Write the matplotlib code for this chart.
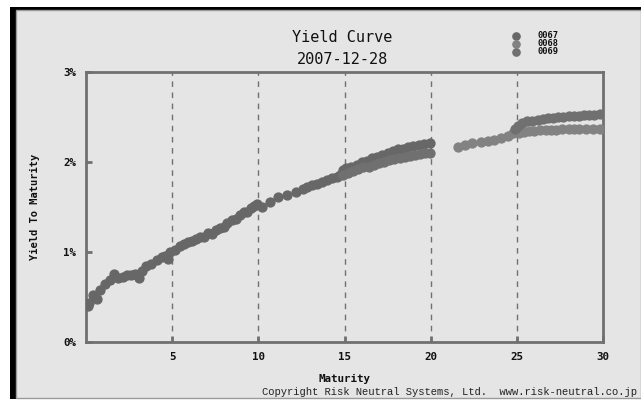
import matplotlib

matplotlib.use("Agg")
import matplotlib.pyplot as plt
from matplotlib.patches import Rectangle

# --- data (maturity in years, yield in %) ---
mat_0067 = [0.10, 0.15, 0.40, 0.62, 0.80, 1.10, 1.40, 1.60, 1.85, 2.15, 2.40, 2.60,
            2.85, 3.10, 3.25, 3.50, 3.80, 4.10, 4.40, 4.60, 4.75, 4.90, 5.15, 5.45,
            5.70, 5.90, 6.15, 6.40, 6.60, 6.85, 7.10, 7.30, 7.55, 7.80, 8.00, 8.20,
            8.45, 8.70, 8.95, 9.15, 9.35, 9.55, 9.75, 9.95, 10.20, 10.65, 11.15, 11.65,
            12.20, 12.60, 12.80, 13.10, 13.40, 13.70, 14.00, 14.30, 14.55, 14.75, 14.90,
            15.10, 15.40, 15.70, 16.00, 16.30, 16.60, 16.90, 17.20, 17.50, 17.80, 18.10,
            18.40, 18.70, 19.00, 19.30, 19.60, 19.95]
ytm_0067 = [0.40, 0.43, 0.52, 0.48, 0.58, 0.65, 0.69, 0.76, 0.71, 0.72, 0.75, 0.74,
            0.76, 0.71, 0.79, 0.84, 0.87, 0.91, 0.94, 0.96, 0.92, 1.00, 1.02, 1.07,
            1.09, 1.11, 1.12, 1.15, 1.17, 1.17, 1.21, 1.20, 1.25, 1.27, 1.28, 1.32,
            1.36, 1.37, 1.41, 1.45, 1.45, 1.49, 1.51, 1.53, 1.50, 1.56, 1.61, 1.63,
            1.67, 1.70, 1.72, 1.74, 1.76, 1.78, 1.80, 1.82, 1.83, 1.86, 1.91,
            1.93, 1.95, 1.97, 2.00, 2.01, 2.04, 2.06, 2.08, 2.10, 2.12, 2.14,
            2.15, 2.17, 2.18, 2.19, 2.20, 2.21]

mat_0068 = [21.6, 22.0, 22.4, 22.9, 23.35, 23.7, 24.1, 24.5, 24.8, 25.1, 25.4, 25.7,
            26.0, 26.35, 26.7, 27.0, 27.3, 27.6, 28.0, 28.3, 28.6, 29.0, 29.4, 29.8]
ytm_0068 = [2.17, 2.19, 2.21, 2.22, 2.23, 2.25, 2.27, 2.29, 2.32, 2.32, 2.33, 2.34,
            2.35, 2.36, 2.36, 2.36, 2.36, 2.37, 2.37, 2.37, 2.37, 2.37, 2.37, 2.37]

mat_0069 = [14.90, 15.20, 15.50, 15.80, 16.10, 16.40, 16.70, 17.00, 17.30, 17.60,
            17.90, 18.20, 18.50, 18.80, 19.10, 19.40, 19.70, 19.95,
            24.9, 25.05, 25.3, 25.6, 25.9, 26.2, 26.5, 26.8, 27.1, 27.4, 27.7, 28.0,
            28.3, 28.6, 28.9, 29.2, 29.5, 29.8]
ytm_0069 = [1.86, 1.88, 1.90, 1.92, 1.94, 1.95, 1.97, 1.99, 2.00, 2.02,
            2.03, 2.05, 2.06, 2.07, 2.08, 2.09, 2.10, 2.10,
            2.37, 2.40, 2.43, 2.45, 2.46, 2.47, 2.48, 2.49, 2.49, 2.50, 2.50, 2.51,
            2.51, 2.51, 2.52, 2.52, 2.52, 2.53]

series = [("0067", mat_0067, ytm_0067, "#676767"),
          ("0068", mat_0068, ytm_0068, "#828282"),
          ("0069", mat_0069, ytm_0069, "#707070")]
x_ticks = [5, 10, 15, 20, 25, 30]
y_ticks = [0, 1, 2, 3]

W, H = 641, 405
PANEL = "#e5e5e5"
FRAME = "#707070"
INK = "#111111"
MONO = "DejaVu Sans Mono"


def fx(px):
    return px / W


def fy(py):
    return 1 - py / H


fig = plt.figure(figsize=(W / 100, H / 100), dpi=100, facecolor="white")

# black drop shadow + grey card, kept behind the axes
fig.patches.append(Rectangle((fx(10), fy(399)), fx(641 - 10), (399 - 7) / H,
                             transform=fig.transFigure, facecolor="black",
                             edgecolor="none", zorder=-2))
fig.patches.append(Rectangle((fx(16), fy(398)), fx(641 - 16), (398 - 10) / H,
                             transform=fig.transFigure, facecolor=PANEL,
                             edgecolor="#9a9a9a", lw=1, zorder=-1))

ax = fig.add_axes([fx(86), fy(342), fx(603 - 86), (342 - 72) / H], zorder=1)
ax.set_facecolor(PANEL)
for name, xs, ys, col in series:
    ax.plot(xs, ys, ls="none", marker="o", ms=6.4, color=col, mec=col,
            zorder=3)

ax.set_xlim(0, 30)
ax.set_ylim(0, 3)
ax.set_xticks(x_ticks)
ax.set_yticks(y_ticks)
ax.set_yticklabels([f"{v}%" for v in y_ticks])
for v in x_ticks[:-1]:
    ax.axvline(v, color=FRAME, lw=1, ls=(0, (4, 4)), zorder=1)
for s in ax.spines.values():
    s.set_color(FRAME)
    s.set_linewidth(2)
ax.tick_params(direction="in", length=4, width=2, color=FRAME, pad=7,
               labelsize=7.8, labelcolor=INK)
for lab in ax.get_xticklabels() + ax.get_yticklabels():
    lab.set_fontfamily(MONO)
    lab.set_fontweight("bold")

ax.set_xlabel("Maturity", fontfamily=MONO, fontweight="bold", fontsize=7.8,
              color=INK, labelpad=9)
ax.set_ylabel("Yield To Maturity", fontfamily=MONO, fontweight="bold",
              fontsize=7.5, color=INK, labelpad=17)

fig.text(fx(342), fy(38), "Yield Curve", ha="center", va="center",
         fontfamily=MONO, fontsize=11, color=INK)
fig.text(fx(342), fy(60), "2007-12-28", ha="center", va="center",
         fontfamily=MONO, fontsize=11, color=INK)

# legend, tightly stacked as in the reference
for i, (name, _, _, col) in enumerate(series):
    yy = fy(36 + i * 8)
    fig.lines.append(plt.Line2D([fx(516)], [yy], transform=fig.transFigure,
                                marker="o", ms=5.2, color=col, ls="none"))
    fig.text(fx(537), yy, name, ha="left", va="center", fontfamily=MONO,
             fontweight="bold", fontsize=6.3, color=INK)

fig.text(fx(637), fy(392), "Copyright Risk Neutral Systems, Ltd.  www.risk-neutral.co.jp",
         ha="right", va="center", fontfamily="Liberation Mono", fontsize=7.6,
         color="#222222")

fig.savefig("out.png", dpi=100, facecolor=fig.get_facecolor())
